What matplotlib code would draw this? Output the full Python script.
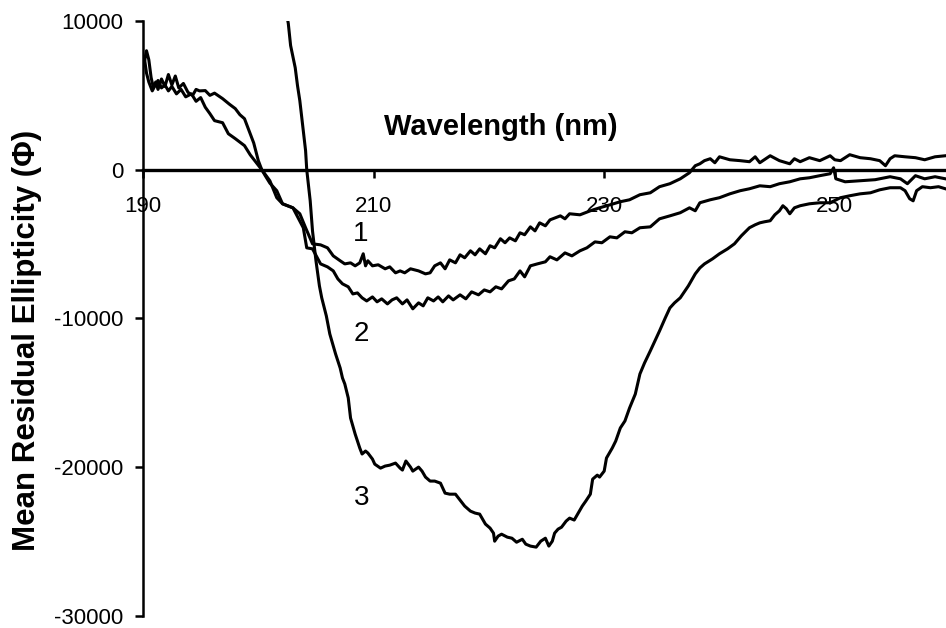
import matplotlib
matplotlib.use("Agg")
import matplotlib.pyplot as plt

plt.rcParams['font.family'] = ['Liberation Sans', 'DejaVu Sans']

# CD spectra, wavelength (nm) vs mean residual ellipticity
wl_1 = [190.1, 190.3, 190.5, 190.7, 190.9, 191.1, 191.3, 191.6, 191.9, 192.2, 192.5, 192.8, 193.1,
        193.5, 193.9, 194.3, 194.6, 194.9, 195.4, 195.8, 196.2, 196.9, 197.5, 198.0, 198.4, 198.8,
        199.3, 199.6, 200.0, 200.3, 200.6, 201.0, 201.6, 202.1, 203.0, 203.6, 204.1, 204.7, 205.4,
        206.0, 206.5, 207.1, 207.5, 208.0, 208.4, 208.8, 209.1, 209.3, 209.5, 209.9, 210.4, 211.0,
        211.4, 211.9, 212.3, 212.7, 213.2, 213.9, 214.5, 214.9, 215.3, 215.8, 216.2, 216.6, 217.1,
        217.5, 217.9, 218.4, 218.8, 219.2, 219.7, 220.1, 220.5, 221.0, 221.4, 221.8, 222.3, 222.7,
        223.1, 223.6, 224.0, 224.4, 224.9, 225.3, 226.2, 226.6, 227.0, 227.9, 228.8, 229.6, 230.5,
        231.4, 232.2, 233.1, 234.0, 234.8, 235.7, 236.6, 237.4, 237.9, 238.3, 238.7, 239.2, 239.6,
        240.0, 240.9, 241.8, 242.6, 243.1, 243.5, 244.4, 245.2, 246.1, 246.5, 247.0, 247.8, 248.7,
        249.6, 250.0, 250.5, 251.3, 252.2, 253.1, 253.9, 254.4, 254.8, 255.2, 256.1, 257.0, 257.8,
        258.7, 259.6]
mre_1 = [7200, 8000, 7400, 6200, 5500, 5900, 5400, 6100, 5600, 6400, 5700, 6300, 5500,
         5800, 5200, 5000, 5400, 5300, 5320, 5000, 5150, 4780, 4400, 4110, 3700, 3430,
         2400, 1800, 610, 0, -400, -900, -1410, -2290, -2560, -2960, -3900, -4980, -5050,
         -5250, -5790, -6120, -6330, -6260, -6460, -6260, -5650, -6460, -6120, -6460, -6390, -6660,
         -6530, -6930, -6800, -6930, -6660, -6800, -7000, -6930, -6460, -6260, -6660, -6060, -6260,
         -5720, -5920, -5450, -5720, -5320, -5650, -5110, -5250, -4640, -4910, -4580, -4780, -4240,
         -4370, -3840, -4110, -3570, -3770, -3370, -3100, -3300, -2960, -3030, -2760, -2560, -2360,
         -2150, -2020, -1680, -1550, -1140, -940, -610, -200, 270, 400, 610, 740, 470,
         870, 670, 610, 540, 870, 470, 940, 610, 400, 740, 540, 810, 610,
         940, 670, 610, 1010, 810, 740, 610, 270, 740, 940, 870, 810, 670,
         870, 940]

wl_2 = [190.1, 190.3, 190.5, 190.8, 191.0, 191.3, 191.6, 191.9, 192.2, 192.5, 192.9, 193.3, 193.7,
        194.2, 194.6, 195.0, 195.4, 195.8, 196.2, 196.9, 197.4, 198.0, 198.8, 199.3, 199.8, 200.3,
        201.0, 201.6, 202.1, 203.0, 203.9, 204.2, 204.7, 205.4, 206.0, 206.5, 206.9, 207.3, 207.8,
        208.2, 208.6, 209.0, 209.4, 209.9, 210.3, 210.7, 211.2, 211.6, 212.0, 212.5, 212.9, 213.4,
        213.9, 214.3, 214.7, 215.2, 215.6, 216.0, 216.5, 216.9, 217.5, 218.0, 218.5, 219.1, 219.6,
        220.1, 220.6, 221.1, 221.7, 222.2, 222.7, 223.1, 223.6, 224.2, 224.9, 225.3, 225.9, 226.6,
        227.2, 227.9, 228.5, 229.2, 229.8, 230.5, 231.1, 231.8, 232.4, 233.1, 234.0, 234.8, 235.7,
        236.6, 237.4, 237.9, 238.3, 239.2, 240.0, 240.9, 241.8, 242.6, 243.5, 244.4, 245.2, 246.1,
        247.0, 247.8, 248.7, 249.6, 249.9, 250.1, 250.9, 252.2, 253.5, 254.8, 255.7, 256.3, 257.0,
        257.8, 258.7, 259.6]
mre_2 = [7600, 6500, 5900, 5300, 5600, 6000, 5500, 5700, 5300, 5600, 5100, 5400, 4900,
         5100, 4600, 4850, 4200, 3770, 3300, 3160, 2420, 2090, 1620, 1000, 500, 0,
         -740, -1880, -2290, -2560, -3900, -5250, -5320, -6330, -6530, -6800, -7340, -7670, -7870,
         -8350, -8280, -8610, -8820, -8550, -8880, -8680, -9020, -8750, -8610, -9020, -8750, -9350,
         -8950, -9150, -8610, -8820, -8550, -8880, -8480, -8750, -8410, -8680, -8210, -8410, -8080,
         -8210, -7870, -8010, -7470, -7340, -6800, -7200, -6460, -6330, -6190, -5850, -6060, -5590,
         -5790, -5450, -5250, -4850, -4910, -4510, -4580, -4170, -4240, -3900, -3840, -3300, -3100,
         -2890, -2560, -2760, -2220, -2020, -1880, -1620, -1410, -1280, -1080, -1140, -940, -810,
         -610, -540, -400, -270, 130, -610, -810, -740, -670, -470, -610, -940, -400,
         -610, -470, -610]

wl_3 = [202.4, 202.6, 202.8, 203.2, 203.4, 203.6, 203.9, 204.1, 204.2, 204.5, 204.7, 205.0, 205.3,
        205.5, 205.9, 206.2, 206.7, 207.1, 207.3, 207.5, 207.8, 208.0, 208.4, 208.8, 209.0, 209.3,
        209.5, 209.9, 210.1, 210.6, 211.0, 211.4, 211.9, 212.3, 212.5, 212.8, 213.2, 213.4, 213.9,
        214.2, 214.5, 214.9, 215.3, 215.8, 216.2, 216.6, 217.1, 217.5, 217.9, 218.4, 218.8, 219.2,
        219.7, 220.1, 220.4, 220.5, 220.8, 221.1, 221.6, 222.0, 222.4, 222.9, 223.2, 223.6, 224.1,
        224.5, 224.9, 225.2, 225.5, 225.7, 226.0, 226.3, 226.7, 227.0, 227.4, 227.7, 228.1, 228.4,
        228.8, 229.0, 229.4, 229.6, 230.0, 230.2, 230.7, 231.0, 231.4, 231.8, 232.2, 232.7, 233.1,
        233.5, 234.0, 234.4, 234.8, 235.3, 235.7, 236.1, 236.6, 237.3, 237.9, 238.3, 238.7, 239.4,
        240.0, 240.7, 241.3, 241.9, 242.6, 243.1, 243.5, 243.9, 244.4, 244.8, 245.2, 245.5, 245.8,
        246.1, 246.5, 247.0, 247.8, 248.7, 249.6, 250.5, 251.3, 252.2, 253.1, 253.9, 254.8, 255.7,
        256.1, 256.5, 256.8, 257.1, 257.6, 258.3, 259.0, 259.6]
mre_3 = [10700, 9830, 8350, 6860, 5650, 4640, 2620, 1280, 0, -2090, -4110, -6120, -7810,
         -8610, -9830, -11040, -12380, -13330, -14000, -14400, -15340, -16690, -17770, -18710, -19110, -18910,
         -19040, -19450, -19790, -20060, -19920, -19860, -19720, -20060, -20190, -19580, -19990, -20260, -19990,
         -20260, -20660, -20930, -20930, -21070, -21740, -21810, -21810, -22210, -22610, -22950, -23080, -23150,
         -23820, -24090, -24430, -24970, -24630, -24500, -24700, -24770, -25040, -24840, -25170, -25300, -25370,
         -24970, -24770, -25300, -24970, -24430, -24160, -24030, -23620, -23420, -23550, -23150, -22610, -22280,
         -21810, -20800, -20530, -20660, -20260, -19380, -18710, -18240, -17360, -16890, -16020, -15080, -13730,
         -12990, -12180, -11510, -10840, -9960, -9290, -8950, -8610, -7810, -7000, -6600, -6330, -5990,
         -5650, -5320, -4980, -4440, -3900, -3700, -3570, -3500, -3430, -3030, -2760, -2420, -2620,
         -2960, -2560, -2420, -2290, -2220, -2220, -1880, -1750, -1620, -1550, -1350, -1210, -1210,
         -1410, -1950, -2090, -1410, -1140, -1210, -1140, -1280]

curve_labels = ['1', '2', '3']
label_pos = [(208.9, -4300), (208.9, -11040), (209.0, -22070)]

x_ticks = [190, 210, 230, 250]
y_ticks = [10000, 0, -10000, -20000, -30000]

fig = plt.figure(figsize=(9.46, 6.28), dpi=100)
ax = fig.add_axes([0.1512, 0.0191, 0.8488, 0.9475])

for wl, mre in [(wl_1, mre_1), (wl_2, mre_2), (wl_3, mre_3)]:
    ax.plot(wl, mre, color='black', linewidth=2.2, solid_joinstyle='round')

for lab, (lx, ly) in zip(curve_labels, label_pos):
    ax.text(lx, ly, lab, fontsize=20, ha='center', va='center')

ax.set_xlim(190, 259.65)
ax.set_ylim(-30000, 10000)

ax.spines['top'].set_visible(False)
ax.spines['right'].set_visible(False)
ax.spines['bottom'].set_position(('data', 0))
ax.spines['bottom'].set_linewidth(2.4)
ax.spines['left'].set_linewidth(1.8)
ax.spines['bottom'].set_zorder(1)

ax.set_xticks(x_ticks)
ax.set_xticklabels([str(t) for t in x_ticks], fontsize=16)
ax.set_yticks(y_ticks)
ax.set_yticklabels([str(t) for t in y_ticks], fontsize=16)
ax.tick_params(axis='x', direction='out', length=6, width=1.8, pad=13)
ax.tick_params(axis='y', direction='out', length=6, width=1.8, pad=8)

ax.text(221.05, 2900, 'Wavelength (nm)', fontsize=21, fontweight='bold',
        ha='center', va='center')
fig.text(27 / 946, 1 - 340 / 628, 'Mean Residual Ellipticity (\u03a6)', fontsize=22.5,
         fontweight='bold', rotation=90, ha='center', va='center')

fig.savefig('out.png', dpi=100, facecolor='white')
plt.close()
